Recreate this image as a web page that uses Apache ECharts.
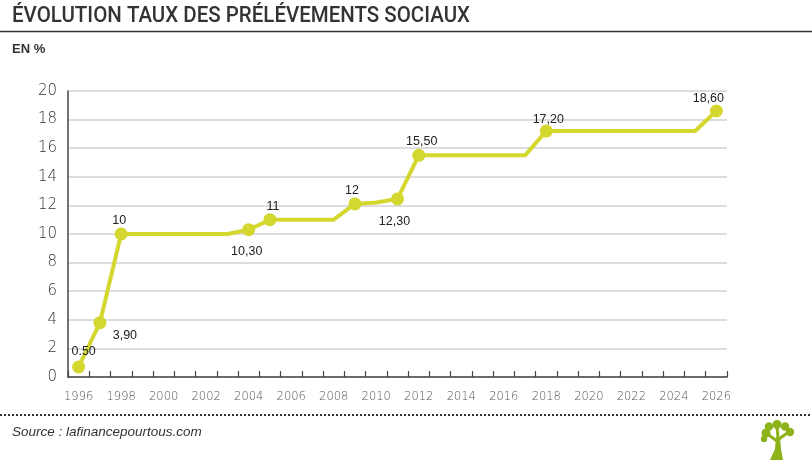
<!DOCTYPE html>
<html>
<head>
<meta charset="utf-8">
<script src="https://cdn.jsdelivr.net/npm/echarts@6/dist/echarts.min.js"></script>
<style>
html,body{margin:0;padding:0;background:#fff;}
#chart{width:812px;height:460px;}
</style>
</head>
<body>
<div id="chart"></div>
<script>
// ---- Data ----
const years = ['1996','1997','1998','1999','2000','2001','2002','2003','2004','2005','2006','2007','2008','2009','2010','2011','2012','2013','2014','2015','2016','2017','2018','2019','2020','2021','2022','2023','2024','2025','2026'];
const rates = [0.7, 3.8, 10, 10, 10, 10, 10, 10, 10.3, 11, 11, 11, 11, 12.1, 12.2, 12.45, 15.5, 15.5, 15.5, 15.5, 15.5, 15.5, 17.2, 17.2, 17.2, 17.2, 17.2, 17.2, 17.2, 17.2, 18.6];
const markedYears = ['1996','1997','1998','2004','2005','2009','2011','2012','2018','2026'];
const markedLabels = ['0.50','3,90','10','10,30','11','12','12,30','15,50','17,20','18,60'];
const yTicks = [0, 2, 4, 6, 8, 10, 12, 14, 16, 18, 20];
const titleText = 'ÉVOLUTION TAUX DES PRÉLÉVEMENTS SOCIAUX';
const subtitleText = 'EN %';
const sourceText = 'Source : lafinancepourtous.com';

// ---- Label placement (style, not data) ----
const labelOffsets = {
  '1996': [5, -15], '1997': [25, 13], '1998': [-2, -13], '2004': [-2, 22],
  '2005': [3, -13], '2009': [-3, -13], '2011': [-3, 23], '2012': [3, -14],
  '2018': [2, -11], '2026': [-8, -12]
};

const lineColor = '#d3d72e';
const treeColor = '#8db31a';
const seriesData = years.map((y, i) => {
  const k = markedYears.indexOf(y);
  if (k < 0) return { value: rates[i], symbol: 'none' };
  return {
    value: rates[i],
    symbol: 'circle',
    symbolSize: 13,
    label: {
      show: true,
      formatter: markedLabels[k],
      position: 'inside',
      offset: labelOffsets[y],
      color: '#222',
      fontFamily: 'Liberation Sans',
      fontSize: 12.5
    }
  };
});

// condensed title: scale horizontally to the reference width
const titleFont = '500 22px Roboto, sans-serif';
const mctx = document.createElement('canvas').getContext('2d');
mctx.font = titleFont;
const titleW = mctx.measureText(titleText).width || 458;
const titleScale = 458 / titleW;

const chart = echarts.init(document.getElementById('chart'), null, {renderer: 'canvas'});
chart.setOption({
  animation: false,
  backgroundColor: '#fff',
  grid: { left: 68, right: 85, top: 91, bottom: 83, containLabel: false },
  xAxis: {
    type: 'category',
    data: years,
    boundaryGap: true,
    axisLine: { show: true, lineStyle: { color: '#444', width: 1.5 } },
    axisTick: { show: true, inside: true, length: 6, interval: 0, lineStyle: { color: '#444', width: 1.2 } },
    axisLabel: { interval: 1, margin: 14, color: '#555', fontFamily: 'DejaVu Sans', fontWeight: 200, fontSize: 11.5 },
    splitLine: { show: false }
  },
  yAxis: {
    type: 'value',
    min: yTicks[0],
    max: yTicks[yTicks.length - 1],
    interval: yTicks[1] - yTicks[0],
    axisLine: { show: true, lineStyle: { color: '#444', width: 1.5 } },
    axisTick: { show: false },
    axisLabel: { margin: 11, color: '#333', fontFamily: 'DejaVu Sans', fontWeight: 200, fontSize: 15 },
    splitLine: { show: true, lineStyle: { color: '#d2d2d2', width: 1.5 } }
  },
  series: [{
    type: 'line',
    data: seriesData,
    showAllSymbol: true,
    lineStyle: { color: lineColor, width: 4 },
    itemStyle: { color: lineColor },
    emphasis: { disabled: true },
    z: 3
  }],
  graphic: [
    { type: 'text', x: 12, y: 5, scaleX: titleScale, scaleY: 1, style: { x: 0, y: 0, text: titleText, font: titleFont, fill: '#333', verticalAlign: 'top', align: 'left' } },
    { type: 'line', shape: { x1: 0, y1: 31.5, x2: 812, y2: 31.5 }, style: { stroke: '#333', lineWidth: 1.5 } },
    { type: 'text', x: 12, y: 43, style: { x: 0, y: 0, text: subtitleText, font: 'bold 13px "Liberation Sans", sans-serif', fill: '#333', verticalAlign: 'top' } },
    { type: 'line', shape: { x1: 0, y1: 415, x2: 812, y2: 415 }, style: { stroke: '#333', lineWidth: 2, lineDash: [2, 2] } },
    { type: 'text', x: 12, y: 425, style: { x: 0, y: 0, text: sourceText, font: 'italic 13.5px "Liberation Sans", sans-serif', fill: '#333', verticalAlign: 'top' } },
    { type: 'group', children: [
      { type: 'polygon', shape: { points: [[770,460],[783,460],[781,449],[780,437],[776,437],[775,449]] }, style: { fill: treeColor } },
      { type: 'line', shape: { x1: 777, y1: 441, x2: 766, y2: 433 }, style: { stroke: treeColor, lineWidth: 3 } },
      { type: 'line', shape: { x1: 779, y1: 439, x2: 790, y2: 431 }, style: { stroke: treeColor, lineWidth: 3 } },
      { type: 'line', shape: { x1: 778, y1: 438, x2: 777, y2: 426 }, style: { stroke: treeColor, lineWidth: 3 } },
      { type: 'circle', shape: { cx: 766, cy: 433, r: 4.5 }, style: { fill: treeColor } },
      { type: 'circle', shape: { cx: 769, cy: 426.5, r: 4.2 }, style: { fill: treeColor } },
      { type: 'circle', shape: { cx: 777, cy: 424.5, r: 4.5 }, style: { fill: treeColor } },
      { type: 'circle', shape: { cx: 785, cy: 426.5, r: 4.2 }, style: { fill: treeColor } },
      { type: 'circle', shape: { cx: 790, cy: 432, r: 4.2 }, style: { fill: treeColor } },
      { type: 'circle', shape: { cx: 764, cy: 439, r: 3.2 }, style: { fill: treeColor } }
    ] }
  ]
});
</script>
</body>
</html>
